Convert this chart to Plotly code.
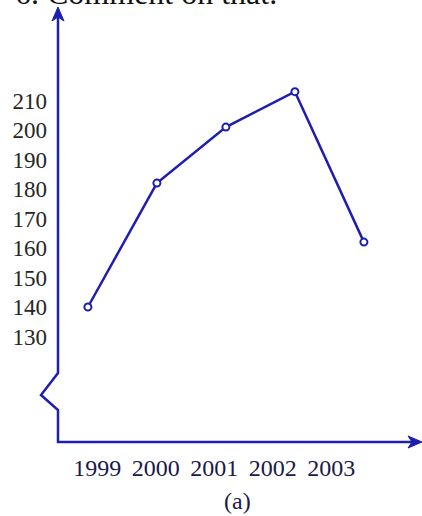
import plotly.graph_objects as go

# ---- data ----
years = [1999, 2000, 2001, 2002, 2003]
values = [140, 182, 201, 213, 162]
y_ticks = [130, 140, 150, 160, 170, 180, 190, 200, 210]
x_tick_labels = ["1999", "2000", "2001", "2002", "2003"]

W, H = 422, 516
L, B = 58, 74           # plot area: x 58..422, y 0..442 (px)
PW, PH = W - L, H - B

def px(x):
    return (x - L) / PW

def py(y):
    return (PH - y) / PH

BLUE = "#1e1eb0"
SERIF = "Liberation Serif, Times New Roman, serif"

fig = go.Figure()
fig.add_trace(go.Scatter(
    x=years, y=values, mode="lines+markers",
    line=dict(color=BLUE, width=2.5),
    marker=dict(symbol="circle", size=7, color="white",
                line=dict(color=BLUE, width=2)),
    hoverinfo="skip", showlegend=False,
))
# invisible trace carrying the year labels axis
fig.add_trace(go.Scatter(
    x=years, y=values, xaxis="x2", yaxis="y", mode="markers",
    marker=dict(opacity=0), hoverinfo="skip", showlegend=False,
))

axis_path = (f"M {px(58)},{py(16)} L {px(58)},{py(373)} L {px(41)},{py(395)} "
             f"L {px(58)},{py(410)} L {px(58)},{py(442)} L {px(412)},{py(442)}")
yarrow = (f"M {px(58)},{py(7)} L {px(52)},{py(21)} L {px(58)},{py(17)} "
          f"L {px(64)},{py(21)} Z")
xarrow = (f"M {px(422)},{py(442)} L {px(408)},{py(436)} L {px(412)},{py(442)} "
          f"L {px(408)},{py(448)} Z")

shapes = [
    dict(type="path", path=axis_path, xref="paper", yref="paper",
         line=dict(color=BLUE, width=2.5)),
    dict(type="path", path=yarrow, xref="paper", yref="paper",
         line=dict(color=BLUE, width=1), fillcolor=BLUE),
    dict(type="path", path=xarrow, xref="paper", yref="paper",
         line=dict(color=BLUE, width=1), fillcolor=BLUE),
]

fig.update_layout(
    width=W, height=H,
    margin=dict(l=L, r=0, t=0, b=B, pad=0),
    paper_bgcolor="white", plot_bgcolor="white",
    xaxis=dict(range=[1998.5667, 2003.842], showgrid=False, zeroline=False,
               showline=False, showticklabels=False, ticks=""),
    xaxis2=dict(range=[1998.330, 2004.552], overlaying="x", anchor="y",
                side="bottom", showgrid=False, zeroline=False, showline=False,
                tickvals=years, ticktext=x_tick_labels, ticks="",
                ticklabelstandoff=9,
                tickfont=dict(family=SERIF, size=24, color="#1a1a48")),
    yaxis=dict(range=[94.24, 244.07], showgrid=False, zeroline=False,
               showline=False, tickvals=y_ticks, ticks="",
               ticklabelstandoff=10,
               tickfont=dict(family=SERIF, size=23, color="#262626")),
    shapes=shapes,
    annotations=[
        dict(text="(a)", xref="paper", yref="paper", x=px(237), y=py(501),
             xanchor="center", yanchor="middle", showarrow=False,
             font=dict(family=SERIF, size=24, color="#1a1a48")),
        dict(text="6. Comment on that.", xref="paper", yref="paper",
             x=px(279), y=py(13), xanchor="right", yanchor="bottom",
             showarrow=False,
             font=dict(family=SERIF, size=32, color="#111111")),
    ],
)

fig.write_html("out.html", config={"displayModeBar": False},
               post_script="document.body.style.margin='0px';")
